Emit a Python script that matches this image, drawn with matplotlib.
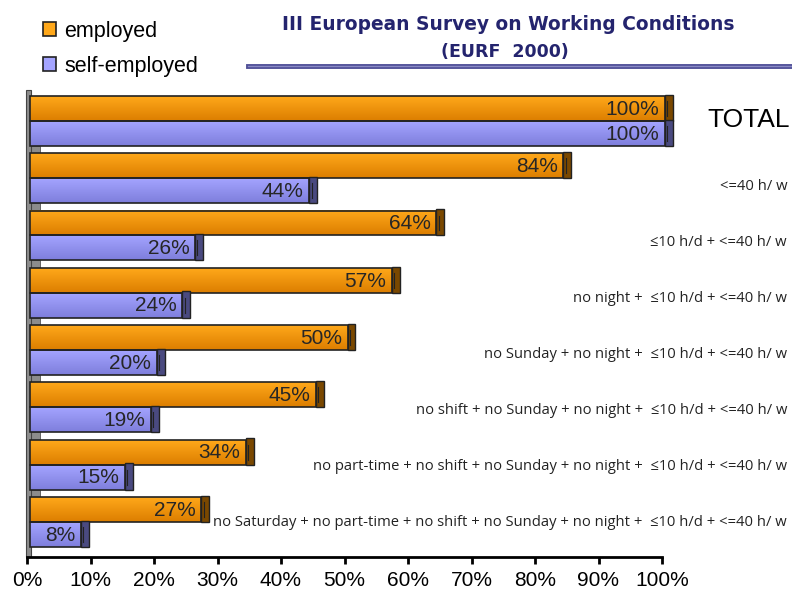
import numpy as np
import matplotlib
matplotlib.use("Agg")
import matplotlib.pyplot as plt
import matplotlib.transforms as mtransforms
from matplotlib.patches import Rectangle, Patch
from matplotlib.lines import Line2D

categories = [
    "TOTAL",
    "<=40 h/ w",
    "\u226410 h/d + <=40 h/ w",
    "no night +  \u226410 h/d + <=40 h/ w",
    "no Sunday + no night +  \u226410 h/d + <=40 h/ w",
    "no shift + no Sunday + no night +  \u226410 h/d + <=40 h/ w",
    "no part-time + no shift + no Sunday + no night +  \u226410 h/d + <=40 h/ w",
    "no Saturday + no part-time + no shift + no Sunday + no night +  \u226410 h/d + <=40 h/ w",
]
employed = [100, 84, 64, 57, 50, 45, 34, 27]
self_employed = [100, 44, 26, 24, 20, 19, 15, 8]
x_ticks = [0, 10, 20, 30, 40, 50, 60, 70, 80, 90, 100]
x_ticklabels = ["%d%%" % t for t in x_ticks]
series_names = ["employed", "self-employed"]

# bar colours: (top of gradient, bottom of gradient, end cap)
orange = ("#ffa81a", "#dc7e00", "#7a4800")
lavender = ("#a4a4ff", "#7e7edc", "#4a4a80")

W, H = 792, 589
fig = plt.figure(figsize=(W / 100, H / 100), dpi=100)
ax = fig.add_axes([27 / W, (H - 557) / H, 1 - 27 / W, (557 - 90) / H])
ax.set_xlim(0, 100 * (W - 27) / (662 - 27))
ax.set_ylim(18.51, -0.24)

# shift bars a few pixels right for the pseudo-3D look
shifted = mtransforms.offset_copy(ax.transData, fig=fig, x=3, y=0, units="dots")

bar_h = 1.0
pitch = 2.3
grad = np.linspace(0, 1, 64).reshape(-1, 1)


def draw_bar(value, y, colors):
    top, bottom, cap = colors
    cmap = matplotlib.colors.LinearSegmentedColormap.from_list("g", [top, bottom])
    im = ax.imshow(grad, cmap=cmap, aspect="auto", interpolation="bilinear",
                   extent=(0, value, y + bar_h / 2, y - bar_h / 2), zorder=2)
    im.set_transform(shifted)
    im.set_clip_on(False)
    ax.add_patch(Rectangle((0, y - bar_h / 2), value, bar_h, fill=False,
                           edgecolor="#222222", lw=1.2, transform=shifted,
                           zorder=3, clip_on=False))
    ax.add_patch(Rectangle((value, y - bar_h / 2 - 0.05), 1.25, bar_h + 0.05,
                           facecolor=cap, edgecolor="#222222", lw=1.0,
                           transform=shifted, zorder=4, clip_on=False))
    ax.plot([value + 0.35, value + 0.35], [y - 0.3, y + 0.3], color="#222222",
            lw=0.8, transform=shifted, zorder=5, clip_on=False)
    ax.text(value - 0.9, y + 0.03, "%d%%" % value, ha="right", va="center",
            fontsize=15, family="Liberation Sans", color="#262626",
            transform=shifted, zorder=6, clip_on=False)


centers = []
for i, (e, s) in enumerate(zip(employed, self_employed)):
    y0 = i * pitch + bar_h / 2
    draw_bar(e, y0, orange)
    draw_bar(s, y0 + bar_h, lavender)
    centers.append(y0 + bar_h / 2)
    # grey floor showing in the gap below each group
    if i < len(employed) - 1:
        ax.add_patch(Rectangle((0, y0 + 1.5 * bar_h), 2.0, pitch - 2 * bar_h,
                               facecolor="#8c8c8c", edgecolor="#555555",
                               lw=0.6, zorder=1))

# grey side wall along the value axis
ax.add_patch(Rectangle((-0.15, -0.24), 0.75, 18.75, facecolor="#8c8c8c",
                       edgecolor="#444444", lw=0.8, zorder=1, clip_on=False))

for sp in ["top", "right", "left"]:
    ax.spines[sp].set_visible(False)
ax.spines["bottom"].set_bounds(0, 100)
ax.spines["bottom"].set_linewidth(2)
ax.set_yticks([])
ax.set_xticks(x_ticks)
ax.set_xticklabels(x_ticklabels, fontsize=15, family="Liberation Sans")
ax.tick_params(axis="x", direction="out", length=5, width=2, pad=5)
ax.patch.set_visible(False)

# row labels to the right of the bars
lab_tr = mtransforms.blended_transform_factory(fig.transFigure, ax.transData)
for i, (c, yc) in enumerate(zip(categories, centers)):
    if i == 0:
        ax.text(790 / W, yc - 0.05, c, ha="right", va="center", fontsize=19,
                family="Liberation Sans", transform=lab_tr)
    else:
        ax.text(787 / W, yc + 0.37 - 0.05 * i, c, ha="right", va="center",
                fontsize=10.6, family=["Open Sans", "DejaVu Sans"],
                color="#222222", transform=lab_tr)

# title with rule underneath
fig.text(508 / W, 1 - 25 / H, "III European Survey on Working Conditions",
         ha="center", va="center", fontsize=13.4, fontweight="bold",
         color="#24246e")
fig.text(505 / W, 1 - 52 / H, "(EURF  2000)", ha="center", va="center",
         fontsize=12.5, fontweight="bold", color="#24246e")
fig.add_artist(Line2D([248 / W, 1.0], [1 - 65.5 / H] * 2, lw=3.5,
                      color="#4e4e96", transform=fig.transFigure))
fig.add_artist(Line2D([248 / W, 1.0], [1 - 66 / H] * 2, lw=1.0,
                      color="#8a8ac4", transform=fig.transFigure))

handles = [Patch(facecolor=orange[0], edgecolor="#222222", lw=1.2),
           Patch(facecolor=lavender[0], edgecolor="#222222", lw=1.2)]
fig.legend(handles, series_names, loc="upper left",
           bbox_to_anchor=(34 / W, 1 - 12 / H), frameon=False,
           prop={"family": "Liberation Sans", "size": 15.5},
           handlelength=0.6, handleheight=0.6, handletextpad=0.4,
           labelspacing=0.65, borderaxespad=0)

fig.savefig("out.png", dpi=100)
